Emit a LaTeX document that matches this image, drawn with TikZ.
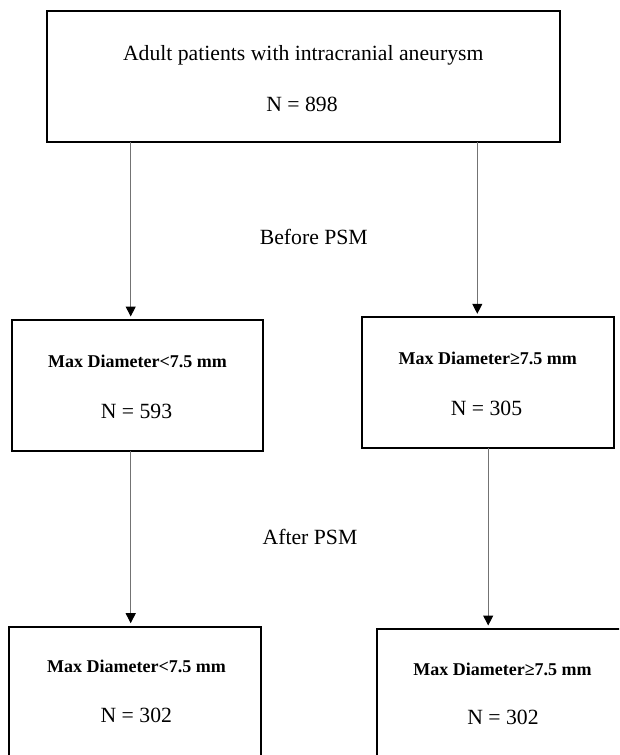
\documentclass[tikz,border=0pt]{standalone}
\usepackage{fontspec}
\setmainfont{Liberation Serif}
\usetikzlibrary{arrows.meta}
\begin{document}
\begin{tikzpicture}[x=1pt,y=-1pt,
  box/.style={draw=black, line width=2pt, inner sep=0pt, outer sep=0pt},
  lbl/.style={anchor=base, inner sep=0pt, font=\fontsize{21.7}{26}\selectfont},
  blbl/.style={anchor=base, inner sep=0pt, font=\fontsize{18}{22}\selectfont\bfseries},
  arr/.style={draw=black!55, line width=1pt, -{Triangle[length=10pt,width=10pt,color=black]}, shorten >=3.5pt}]
\clip (0,0) rectangle (619,755);
\fill[white] (0,0) rectangle (619,755);
% boxes
\node[box, minimum width=513pt, minimum height=130.7pt] (top) at (303.2,76.35) {};
\node[box, minimum width=251.6pt, minimum height=130.7pt] (lm) at (137.5,385.35) {};
\node[box, minimum width=252.3pt, minimum height=131pt] (rm) at (487.85,382.8) {};
\node[box, minimum width=252pt, minimum height=131pt] (lb) at (135,692.2) {};
\node[box, minimum width=252pt, minimum height=131pt] (rb) at (502.7,694.5) {};
% texts
\node[lbl] (t1) at (303.2,60.7) {Adult patients with intracranial aneurysm};
\node[lbl] (t2) at (302,111) {N = 898};
\node[lbl] (before) at (313.8,244) {Before PSM};
\node[lbl] (after) at (310,544) {After PSM};
\node[blbl] (lm1) at (137.5,367.7) {Max Diameter<7.5 mm};
\node[lbl] (lm2) at (136.5,418.3) {N = 593};
\node[blbl] (rm1) at (487.8,364.3) {Max Diameter≥7.5 mm};
\node[lbl] (rm2) at (486.5,415) {N = 305};
\node[blbl] (lb1) at (136.5,672.7) {Max Diameter<7.5 mm};
\node[lbl] (lb2) at (136.3,722.7) {N = 302};
\node[blbl] (rb1) at (502.5,675) {Max Diameter≥7.5 mm};
\node[lbl] (rb2) at (503,724) {N = 302};
% arrow columns
\coordinate (xa) at (130.7,0);
\coordinate (xb) at (477.3,0);
\coordinate (xd) at (488.2,0);
\draw[arr] (top.south -| xa) -- (lm.north -| xa);
\draw[arr] (top.south -| xb) -- (rm.north -| xb);
\draw[arr] (lm.south -| xa) -- (lb.north -| xa);
\draw[arr] (rm.south -| xd) -- (rb.north -| xd);
\end{tikzpicture}
\end{document}
